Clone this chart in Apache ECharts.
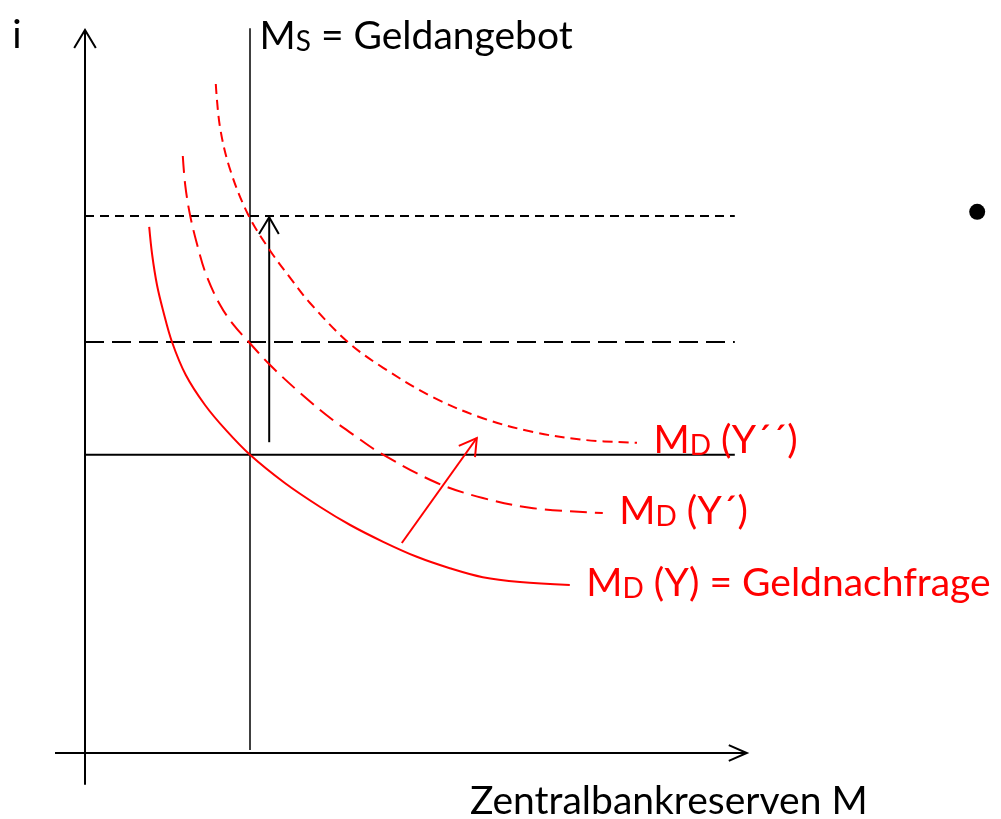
<!DOCTYPE html>
<html>
<head>
<meta charset="utf-8">
<script src="https://cdn.jsdelivr.net/npm/echarts@6/dist/echarts.min.js"></script>
<style>
  html, body { margin: 0; padding: 0; background: #ffffff; }
  #chart { width: 1001px; height: 819px; }
</style>
</head>
<body>
<div id="chart"></div>
<script>
// ---- Data (diagram units) ----
const xRange = [-1, 14];
const yRange = [-1, 12.5];

// Money demand curves
const demandY = [[1.07,8.77],[1.12,8.3],[1.2,7.8],[1.3,7.38],[1.45,6.85],[1.68,6.3],[2.0,5.8],[2.35,5.38],[2.75,4.97],[3.33,4.5],[3.92,4.1],[4.42,3.8],[4.97,3.52],[5.53,3.27],[6.08,3.08],[6.63,2.93],[7.25,2.85],[8.08,2.8]];
const demandY1 = [[1.63,9.95],[1.67,9.47],[1.75,8.97],[1.87,8.47],[2.02,7.97],[2.25,7.47],[2.48,7.13],[2.73,6.85],[3.08,6.47],[3.62,5.97],[4.13,5.55],[4.48,5.3],[4.92,5.0],[5.87,4.5],[6.63,4.25],[7.47,4.08],[8.63,4.0]];
const demandY2 = [[2.18,11.15],[2.25,10.43],[2.42,9.72],[2.72,8.97],[3.08,8.38],[3.42,7.92],[3.75,7.5],[4.38,6.85],[4.97,6.42],[5.8,5.93],[6.63,5.58],[7.47,5.35],[8.3,5.22],[9.2,5.17]];

// Money supply (vertical) and interest rate levels
const supplyLine = [[2.75,0.05],[2.75,12.08]];
const rateI0 = [[0,4.97],[10.83,4.97]];
const rateI1 = [[0,6.85],[10.83,6.85]];
const rateI2 = [[0,8.95],[10.83,8.95]];

// Axes with open arrow heads
const yAxisLine = [[0,-0.53],[0,12.05]];
const yAxisHead = [[-0.18,11.75],[0,12.05],[0.18,11.75]];
const xAxisLine = [[-0.5,0],[11.03,0]];
const xAxisHead = [[10.73,0.13],[11.03,0],[10.73,-0.13]];

// Arrows
const rateArrow = [[3.07,5.18],[3.07,8.93]];
const rateArrowHead = [[2.9,8.65],[3.07,8.93],[3.23,8.65]];
const shiftArrow = [[5.28,3.5],[6.53,5.25]];
const shiftArrowHead = [[6.23,5.12],[6.53,5.25],[6.5,4.93]];

// Stray bullet
const bullet = [[14.87,9.02]];

// Texts
const labelDemandY  = 'M|D| (Y) = Geldnachfrage';
const labelDemandY1 = 'M|D| (Y´)';
const labelDemandY2 = 'M|D| (Y´´)';
const labelSupply   = 'M|S| = Geldangebot';
const labelYAxis    = 'i';
const labelXAxis    = 'Zentralbankreserven M';

// ---- Chart ----
const RED = '#ff0000';
const BLACK = '#000000';
const FONT = 'Lato';
const BIG = 39, SMALL = 28;

function rich(color) {
  return {
    m: { fontFamily: FONT, fontSize: BIG, lineHeight: BIG, color: color, verticalAlign: 'bottom' },
    s: { fontFamily: FONT, fontSize: SMALL, lineHeight: SMALL, color: color, verticalAlign: 'bottom' }
  };
}
function richText(spec) {
  const p = spec.split('|');
  return '{m|' + p[0] + '}{s|' + p[1] + '}{m|' + p[2] + '}';
}
function lastPt(arr) { return arr[arr.length - 1]; }

function line(data, color, width, type, extra) {
  return Object.assign({
    type: 'line', data: data, symbol: 'none', clip: false, silent: true,
    animation: false, z: 3,
    lineStyle: { color: color, width: width, type: type || 'solid', cap: 'butt', join: 'miter' }
  }, extra || {});
}
function curve(data, type, labelSpec) {
  return line(data, RED, 2, type, {
    z: 4, smooth: 0.35,
    markPoint: endText(lastPt(data), labelSpec, RED, 'right', 16, [0, -2], true)
  });
}
function endText(pt, text, color, position, distance, offset, isRich) {
  return {
    symbol: 'circle', symbolSize: 1, silent: true, animation: false,
    itemStyle: { color: 'rgba(0,0,0,0)' },
    data: [{ coord: pt }],
    label: Object.assign({
      show: true, position: position, distance: distance, offset: offset,
      color: color, fontFamily: FONT, fontSize: BIG
    }, isRich ? { formatter: richText(text), rich: rich(color) } : { formatter: text })
  };
}

const chart = echarts.init(document.getElementById('chart'), null, { renderer: 'canvas' });
chart.setOption({
  backgroundColor: '#ffffff',
  animation: false,
  grid: { left: 25, top: 3, width: 900, height: 810, outerBoundsMode: 'none', containLabel: false },
  xAxis: { type: 'value', min: xRange[0], max: xRange[1], show: false },
  yAxis: { type: 'value', min: yRange[0], max: yRange[1], show: false },
  series: [
    line(yAxisLine, BLACK, 2, 'solid', { markPoint: endText(lastPt(yAxisLine), labelYAxis, BLACK, 'left', 63, [0, 5], false) }),
    line(yAxisHead, BLACK, 2),
    line(xAxisLine, BLACK, 2, 'solid', { markPoint: endText(lastPt(xAxisLine), labelXAxis, BLACK, 'bottom', 0, [-78, 28], false) }),
    line(xAxisHead, BLACK, 2),
    line(supplyLine, BLACK, 1.5, 'solid', { markPoint: endText(lastPt(supplyLine), labelSupply, BLACK, 'right', 9, [0, 8], true) }),
    line(rateI0, BLACK, 2),
    line(rateI1, BLACK, 2, [19, 8]),
    line(rateI2, BLACK, 2, [9, 6]),
    line(rateArrow, BLACK, 2),
    line(rateArrowHead, BLACK, 2),
    curve(demandY, 'solid', labelDemandY),
    curve(demandY1, [17, 8], labelDemandY1),
    curve(demandY2, [10, 6], labelDemandY2),
    line(shiftArrow, RED, 2, 'solid', { z: 4 }),
    line(shiftArrowHead, RED, 2, 'solid', { z: 4 }),
    { type: 'scatter', data: bullet, symbol: 'circle', symbolSize: 16, clip: false, silent: true,
      animation: false, itemStyle: { color: BLACK, opacity: 1 } }
  ]
});
</script>
</body>
</html>
